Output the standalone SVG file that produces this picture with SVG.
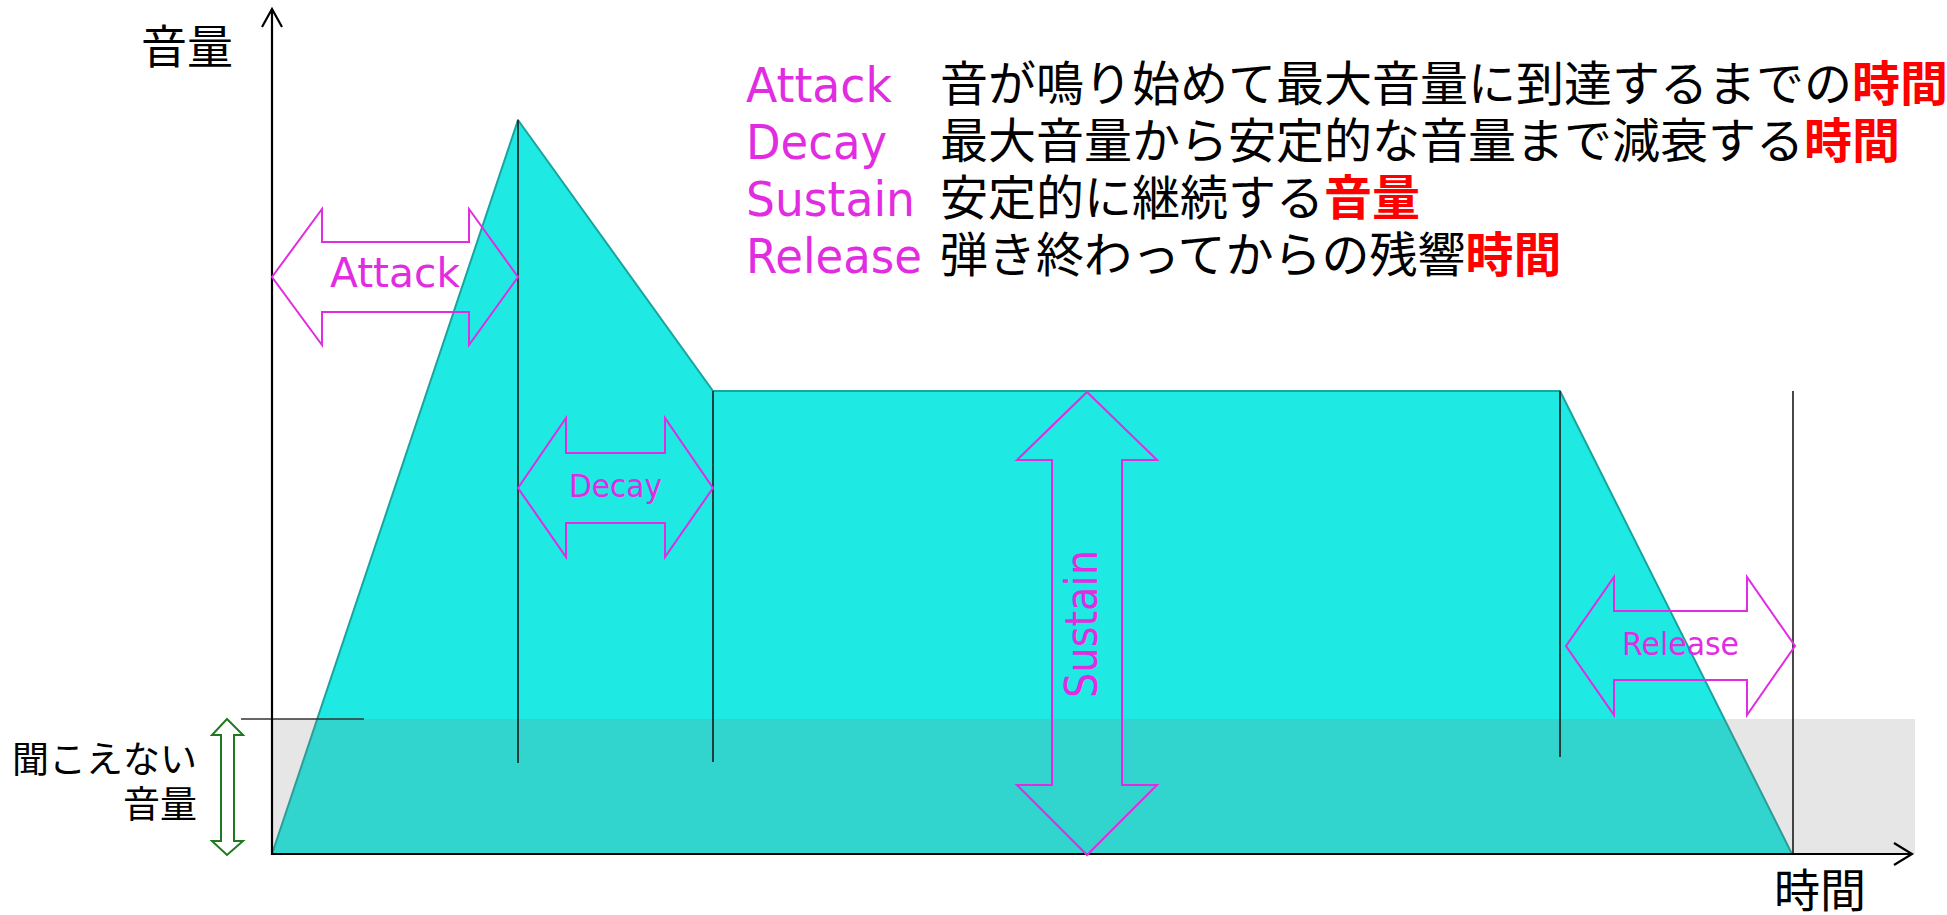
<svg xmlns="http://www.w3.org/2000/svg" width="1947" height="915" viewBox="0 0 1947 915">
<style>
.jp{font-family:"Noto Sans CJK JP","Noto Sans CJK SC",sans-serif;fill:#000}
.red{font-family:"Noto Sans CJK JP","Noto Sans CJK SC",sans-serif;fill:#FF0000;font-weight:bold}
.lat{font-family:"DejaVu Sans","Verdana",sans-serif;fill:#E22CE2}
.mag{fill:none;stroke:#E22CE2;stroke-width:2;stroke-linejoin:miter}
.vl{stroke:#1a1a1a;stroke-width:1.6;fill:none}
.ax{stroke:#000;stroke-width:2.2;fill:none}
</style>
<rect width="1947" height="915" fill="#fff"/>
<g id="envelope">
<polygon points="272,854 518,120 713,391 1560,391 1792,854" fill="#1EE9E2" stroke="#19A49E" stroke-width="2" stroke-linejoin="round"/>
</g>
<g id="inaudible-band">
<rect x="272" y="719" width="1643" height="135" fill="#808080" fill-opacity="0.2"/>
</g>
<g id="guides">
<line class="vl" x1="518" y1="120" x2="518" y2="763"/>
<line class="vl" x1="713" y1="391" x2="713" y2="762"/>
<line class="vl" x1="1560" y1="391" x2="1560" y2="757"/>
<line class="vl" x1="1793" y1="391" x2="1793" y2="854"/>
<line x1="241" y1="719" x2="364" y2="719" stroke="#333" stroke-width="1.6"/>
</g>
<g id="axes">
<line class="ax" x1="272" y1="855" x2="272" y2="9"/>
<polyline class="ax" points="262,27 272,9 282,27"/>
<line class="ax" x1="271" y1="854" x2="1912" y2="854"/>
<polyline class="ax" points="1894,843 1912,854 1894,865"/>
</g>
<g id="connectors">
<path id="attack-arrow" class="mag" d="M272,277 L322,209 L322,242 L469,242 L469,209 L518,277 L469,345 L469,312 L322,312 L322,345 Z"/>
<path id="decay-arrow" class="mag" d="M518,488 L566,418 L566,453 L665,453 L665,418 L713,488 L665,557 L665,523 L566,523 L566,557 Z"/>
<path id="sustain-arrow" class="mag" d="M1087,392 L1157,460 L1122,460 L1122,785 L1157,785 L1087,855 L1017,785 L1052,785 L1052,460 L1017,460 Z"/>
<path id="release-arrow" class="mag" d="M1566,646 L1614,577 L1614,611 L1747,611 L1747,577 L1795,646 L1747,715 L1747,680 L1614,680 L1614,715 Z"/>
<path id="inaudible-arrow" d="M227,719 L243,735 L234,735 L234,841 L243,841 L227,855 L212,841 L221,841 L221,735 L212,735 Z" fill="#fff" stroke="#1F7A1F" stroke-width="2"/>
</g>
<g id="label-attack"><text class="lat" x="395" y="287" font-size="41" text-anchor="middle" textLength="130" lengthAdjust="spacingAndGlyphs">Attack</text></g>
<g id="label-decay"><text class="lat" x="615.5" y="497" font-size="32" text-anchor="middle" textLength="93" lengthAdjust="spacingAndGlyphs">Decay</text></g>
<g id="label-sustain"><text class="lat" transform="translate(1097,624) rotate(-90)" x="0" y="0" font-size="44" text-anchor="middle" textLength="148" lengthAdjust="spacingAndGlyphs">Sustain</text></g>
<g id="label-release"><text class="lat" x="1680.5" y="655" font-size="32" text-anchor="middle" textLength="117" lengthAdjust="spacingAndGlyphs">Release</text></g>
<g id="axis-labels">
<text class="jp" x="141" y="63" font-size="46">音量</text>
<text class="jp" x="1774" y="907" font-size="46">時間</text>
<text class="jp" x="197" y="773" font-size="37" text-anchor="end">聞こえない</text>
<text class="jp" x="197" y="818" font-size="37" text-anchor="end">音量</text>
</g>
<g id="legend">
<text class="lat" x="746" y="102" font-size="48" textLength="146" lengthAdjust="spacingAndGlyphs">Attack</text>
<text class="jp" x="940" y="101" font-size="48">音が鳴り始めて最大音量に到達するまでの<tspan class="red">時間</tspan></text>
<text class="lat" x="746" y="159" font-size="48" textLength="141" lengthAdjust="spacingAndGlyphs">Decay</text>
<text class="jp" x="940" y="158" font-size="48">最大音量から安定的な音量まで減衰する<tspan class="red">時間</tspan></text>
<text class="lat" x="746" y="216" font-size="48" textLength="169" lengthAdjust="spacingAndGlyphs">Sustain</text>
<text class="jp" x="940" y="215" font-size="48">安定的に継続する<tspan class="red">音量</tspan></text>
<text class="lat" x="746" y="273" font-size="48" textLength="176" lengthAdjust="spacingAndGlyphs">Release</text>
<text class="jp" x="940" y="272" font-size="48">弾き終わってからの残響<tspan class="red">時間</tspan></text>
</g>
</svg>
